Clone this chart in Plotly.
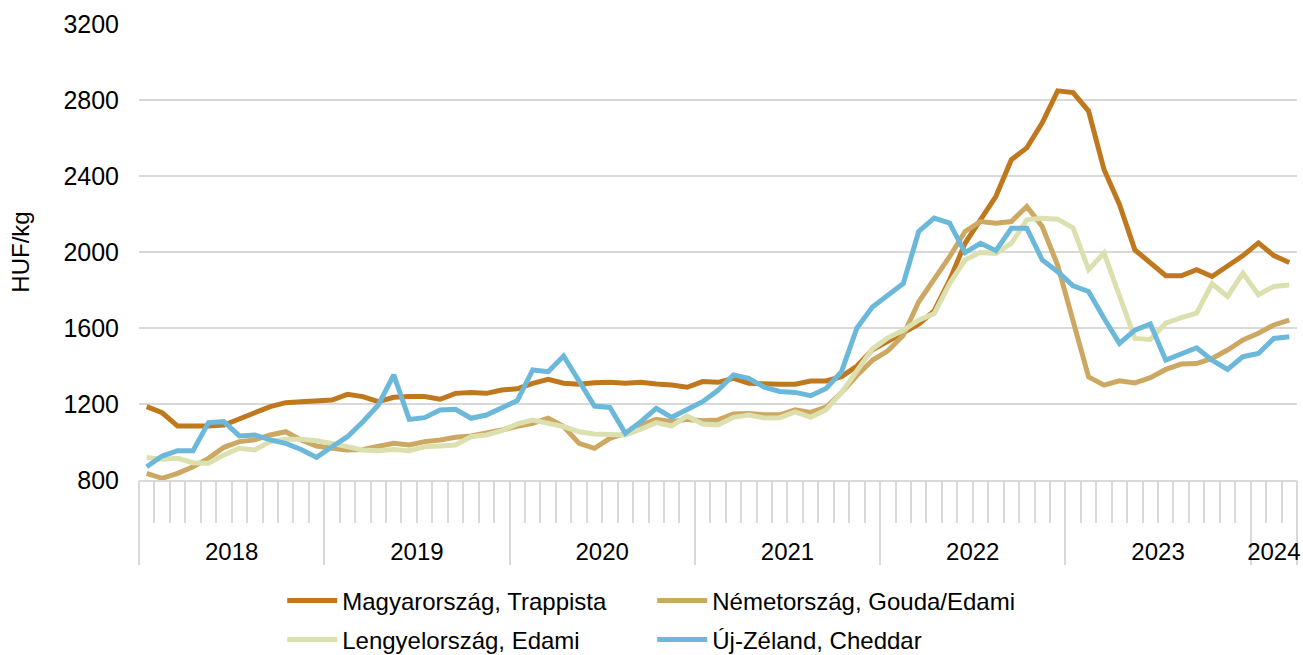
import plotly.graph_objects as go

# ---- data (monthly, Jan 2018 .. Mar 2024), HUF/kg ----
years = ["2018", "2019", "2020", "2021", "2022", "2023", "2024"]
months_per_year = [12, 12, 12, 12, 12, 12, 3]

hu_trappista = [
    1186, 1154, 1084, 1081, 1084, 1089, 1125, 1154, 1186, 1207, 1212, 1217,
    1221, 1251, 1239, 1212, 1235, 1239, 1239, 1225, 1256, 1260, 1256, 1274,
    1280, 1309, 1330, 1309, 1304, 1312, 1314, 1309, 1314, 1305, 1300, 1288,
    1318, 1314, 1335, 1309, 1305, 1304, 1304, 1321, 1321, 1344, 1400, 1485,
    1530, 1575, 1620, 1690, 1852, 2046, 2169, 2293, 2486, 2548, 2680, 2848,
    2839, 2742, 2434, 2250, 2011, 1942, 1875, 1875, 1907, 1871, 1924, 1981,
    2048, 1981, 1945,
]
de_gouda = [
    835, 809, 835, 870, 914, 972, 1002, 1011, 1037, 1054, 1011, 979,
    967, 958, 961, 975, 993, 984, 1002, 1011, 1025, 1032, 1046, 1063,
    1082, 1098, 1125, 1081, 993, 967, 1019, 1046, 1089, 1119, 1107, 1119,
    1112, 1116, 1147, 1150, 1143, 1143, 1170, 1156, 1183, 1260, 1350, 1430,
    1480, 1561, 1738, 1852, 1975, 2108, 2160, 2152, 2160, 2240, 2134, 1930,
    1640, 1343, 1299, 1322, 1311, 1339, 1382, 1410, 1413, 1440, 1484, 1537,
    1572, 1616, 1642,
]
pl_edami = [
    919, 909, 914, 891, 888, 932, 967, 958, 1002, 1014, 1014, 1007,
    993, 975, 958, 954, 961, 954, 975, 979, 984, 1028, 1037, 1060,
    1095, 1116, 1098, 1081, 1054, 1042, 1040, 1037, 1067, 1102, 1084, 1137,
    1095, 1090, 1130, 1142, 1126, 1128, 1158, 1130, 1170, 1260, 1375, 1490,
    1548, 1588, 1641, 1676, 1834, 1958, 1998, 1993, 2046, 2169, 2178, 2173,
    2127, 1907, 1995, 1766, 1545, 1540, 1625, 1655, 1678, 1833, 1766, 1889,
    1775, 1819, 1826,
]
nz_cheddar = [
    870, 926, 954, 954, 1102, 1107, 1032, 1037, 1011, 993, 961, 919,
    975, 1028, 1107, 1195, 1353, 1119, 1128, 1168, 1172, 1125, 1142, 1177,
    1218, 1379, 1370, 1453, 1318, 1189, 1182, 1046, 1107, 1177, 1130, 1172,
    1212, 1272, 1353, 1335, 1288, 1266, 1261, 1244, 1282, 1370, 1600, 1710,
    1770, 1834, 2108, 2178, 2152, 1997, 2046, 2007, 2125, 2125, 1958, 1896,
    1822, 1792, 1651, 1519, 1589, 1621, 1431, 1466, 1496, 1431, 1382, 1449,
    1466, 1545, 1554,
]
series_names = ["Magyarország, Trappista", "Németország, Gouda/Edami",
                "Lengyelország, Edami", "Új-Zéland, Cheddar"]
series_colors = ["#C0781E", "#CCA862", "#DCE0AF", "#6CB8DB"]
y_ticks = [800, 1200, 1600, 2000, 2400, 2800, 3200]

# ---- derived positions (category centres) ----
n = sum(months_per_year)
xpos = [i + 0.5 for i in range(n)]
year_edges = [0]
for m in months_per_year:
    year_edges.append(year_edges[-1] + m)
year_centers = [(year_edges[k] + year_edges[k + 1]) / 2 for k in range(len(years))]

FONT = "Liberation Sans, Arial, sans-serif"
GRID = "#D9D9D9"
FS = 24

fig = go.Figure()
all_series = [hu_trappista, de_gouda, pl_edami, nz_cheddar]
for k, (name, vals, col) in enumerate(zip(series_names, all_series, series_colors)):
    fig.add_trace(go.Scatter(
        x=xpos, y=vals, name=name, mode="lines",
        line=dict(color=col, width=5),
        legend="legend" if k < 2 else "legend2",
    ))

# dummy traces so overlay axes are drawn
fig.add_trace(go.Scatter(x=[None], y=[None], xaxis="x2", showlegend=False, hoverinfo="skip"))
fig.add_trace(go.Scatter(x=[None], y=[None], xaxis="x3", showlegend=False, hoverinfo="skip"))

fig.update_layout(
    width=1303, height=655,
    margin=dict(l=139, r=6, t=24, b=175, autoexpand=False),
    paper_bgcolor="white", plot_bgcolor="white",
    font=dict(family=FONT, size=FS, color="#000000"),
    xaxis=dict(
        range=[0, n], showgrid=False, zeroline=False, automargin=False,
        tickmode="linear", tick0=0, dtick=1,
        ticks="outside", ticklen=41, tickwidth=1.5, tickcolor=GRID,
        showticklabels=False, showline=True, linecolor=GRID, linewidth=1.5,
    ),
    xaxis2=dict(
        range=[0, n], overlaying="x", anchor="y", side="bottom",
        showgrid=False, zeroline=False, automargin=False,
        tickmode="array", tickvals=year_edges,
        ticks="outside", ticklen=84, tickwidth=1.5, tickcolor=GRID,
        showticklabels=False,
    ),
    xaxis3=dict(
        range=[0, n], overlaying="x", anchor="y", side="bottom",
        showgrid=False, zeroline=False, automargin=False,
        tickmode="array", tickvals=year_centers, ticktext=years,
        ticks="outside", ticklen=50, tickcolor="rgba(0,0,0,0)",
        tickfont=dict(size=FS, family=FONT, color="#000"),
    ),
    yaxis=dict(
        range=[800, 3200], tickmode="array", tickvals=y_ticks,
        showgrid=True, gridcolor=GRID, gridwidth=1.5, zeroline=False, automargin=False,
        ticks="outside", ticklen=14, tickcolor="rgba(0,0,0,0)",
        tickfont=dict(size=25, family=FONT, color="#000"),
        title=dict(text="HUF/kg", font=dict(size=FS, family=FONT, color="#000"), standoff=26),
    ),
    legend=dict(
        orientation="h", xref="container", yref="container",
        x=0.2166, y=1 - 601 / 655, xanchor="left", yanchor="middle",
        font=dict(size=FS, family=FONT, color="#000"),
        itemwidth=50, entrywidth=305, bgcolor="rgba(0,0,0,0)",
    ),
    legend2=dict(
        orientation="h", xref="container", yref="container",
        x=0.2166, y=1 - 640 / 655, xanchor="left", yanchor="middle",
        font=dict(size=FS, family=FONT, color="#000"),
        itemwidth=50, entrywidth=305, bgcolor="rgba(0,0,0,0)",
    ),
    showlegend=True,
)

fig.write_html(
    "out.html",
    config={"displayModeBar": False},
    post_script="document.body.style.margin='0';document.body.style.overflow='hidden';",
)
